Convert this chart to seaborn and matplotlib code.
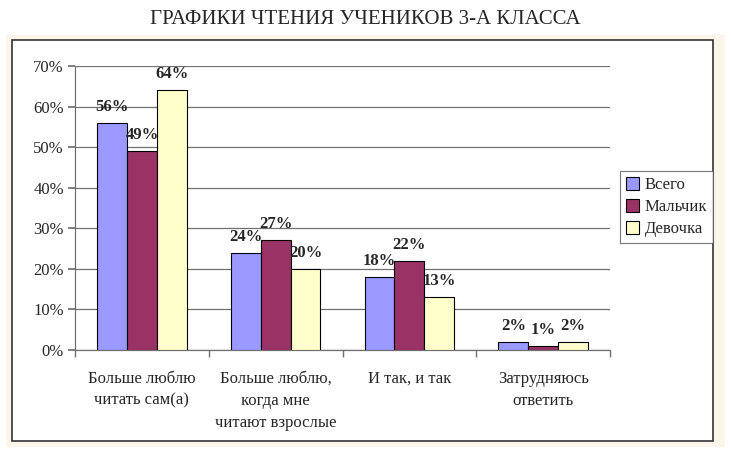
import matplotlib
matplotlib.use("Agg")
import matplotlib.pyplot as plt
import seaborn as sns
import pandas as pd
import numpy as np
from matplotlib.patches import Rectangle
from matplotlib.ticker import FixedLocator, FuncFormatter

categories = ["Больше люблю\nчитать сам(а)", "Больше люблю,\nкогда мне\nчитают взрослые",
              "И так, и так", "Затрудняюсь\nответить"]
series_names = ["Всего", "Мальчик", "Девочка"]
vsego = [56, 24, 18, 2]
malchik = [49, 27, 22, 1]
devochka = [64, 20, 13, 2]
colors = ["#9999FF", "#993366", "#FFFFCC"]

rows = []
for name, vals in zip(series_names, [vsego, malchik, devochka]):
    for c, v in zip(categories, vals):
        rows.append({"cat": c, "series": name, "val": v})
df = pd.DataFrame(rows)

sns.set_theme(style="white")
plt.rcParams['font.family'] = ['Liberation Serif', 'DejaVu Serif']

fig = plt.figure(figsize=(7.31, 4.57), dpi=100)
ax = fig.add_axes([75/731, 1-350/457, (610-75)/731, (350-66)/457])

sns.barplot(data=df, x="cat", y="val", hue="series", palette=colors, width=0.67,
            saturation=1, edgecolor="black", linewidth=0.8, ax=ax, legend=True, zorder=3)

ax.set_ylim(0, 70)
ax.set_xlim(-0.5, 3.5)
ax.set_yticks(np.arange(0, 71, 10))
ax.yaxis.set_major_formatter(FuncFormatter(lambda v, p: f"{int(v)}%"))
ax.grid(axis="y", color="#707070", linewidth=0.9, zorder=0)
ax.set_axisbelow(True)
for s in ["top", "right"]:
    ax.spines[s].set_visible(False)
for s in ["left", "bottom"]:
    ax.spines[s].set_color("#707070")
    ax.spines[s].set_linewidth(0.9)
ax.tick_params(axis="y", left=True, length=5, color="#707070", labelsize=12, pad=3)
ax.tick_params(axis="x", which="major", length=0, labelsize=12, pad=15)
ax.xaxis.set_minor_locator(FixedLocator([-0.5, 0.5, 1.5, 2.5, 3.5]))
ax.tick_params(axis="x", which="minor", bottom=True, length=5, color="#707070")
ax.set_xlabel("")
ax.set_ylabel("")
for lab in ax.get_xticklabels():
    lab.set_verticalalignment("top")
    lab.set_linespacing(1.5)

for cont in ax.containers:
    for bar in cont:
        h = bar.get_height()
        ax.text(bar.get_x() + bar.get_width()/2, h + 2.0, f"{int(round(h))}%",
                ha="center", va="bottom", fontsize=12, fontweight="bold", zorder=5)

leg = ax.legend(loc="upper left", bbox_to_anchor=(620/731, 1-171/457), bbox_transform=fig.transFigure,
                frameon=True, fancybox=False, edgecolor="#555555", fontsize=12,
                handlelength=0.8, handleheight=0.8, handletextpad=0.35, labelspacing=0.35,
                borderpad=0.35, borderaxespad=0)
leg.get_frame().set_linewidth(0.8)

fig.text(0.5, 1-20/457, "ГРАФИКИ ЧТЕНИЯ УЧЕНИКОВ 3-А КЛАССА", ha="center", va="center", fontsize=15)

fig.patches.append(Rectangle((6/731, 1-447/457), (725-6)/731, (447-35)/457, transform=fig.transFigure,
                             facecolor="#FCF6EA", edgecolor="none", zorder=-3))
fig.patches.append(Rectangle((12/731, 1-441/457), (713-12)/731, (441-40)/457, transform=fig.transFigure,
                             facecolor="white", edgecolor="#333333", linewidth=1.2, zorder=-2))

fig.savefig("out.png", dpi=100)
